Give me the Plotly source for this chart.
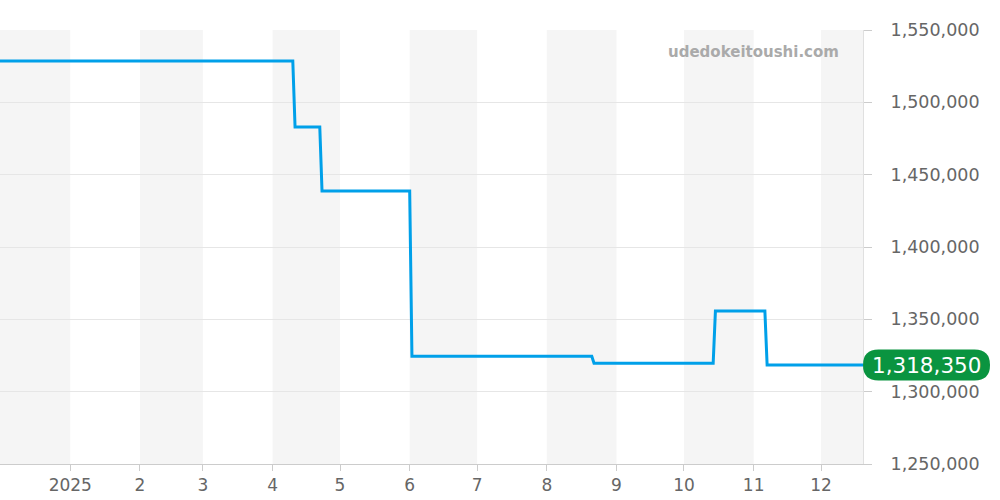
import plotly.graph_objs as go

# price history (step changes)
dates = ['2024-11-30', '2025-04-10', '2025-04-11', '2025-04-22', '2025-04-23',
         '2025-06-01', '2025-06-02', '2025-08-21', '2025-08-22', '2025-10-14',
         '2025-10-15', '2025-11-06', '2025-11-07', '2025-12-20']
prices = [1528600, 1528600, 1483000, 1483000, 1438700,
          1438700, 1324500, 1324500, 1319600, 1319600,
          1355800, 1355800, 1318350, 1318350]

month_starts = ['2024-11-30', '2025-01-01', '2025-02-01', '2025-03-01', '2025-04-01',
                '2025-05-01', '2025-06-01', '2025-07-01', '2025-08-01', '2025-09-01',
                '2025-10-01', '2025-11-01', '2025-12-01', '2026-01-01']
tick_vals = month_starts[1:13]
tick_text = ['2025', '2', '3', '4', '5', '6', '7', '8', '9', '10', '11', '12']
y_ticks = [1250000, 1300000, 1350000, 1400000, 1450000, 1500000, 1550000]

x_range = ['2024-11-30 18:00', '2025-12-19 15:36']
y_range = [1250000, 1550000]

fig = go.Figure()
fig.add_trace(go.Scatter(x=dates, y=prices, mode='lines',
                         line=dict(color='#00a0e9', width=3), hoverinfo='x+y'))

# alternating month bands
shapes = []
for i in range(0, len(month_starts) - 1, 2):
    shapes.append(dict(type='rect', xref='x', yref='paper', layer='below',
                       x0=month_starts[i], x1=month_starts[i + 1], y0=0, y1=1,
                       fillcolor='#f5f5f5', line=dict(width=0)))

# rounded label for the last price
plot_w = 863
plot_h = 434
last = prices[-1]
px_y = (y_range[1] - y_range[0]) / plot_h
x0p, x1p = 863, 990
h = 31
r = h / 2
yc = last
def X(p):
    return p / plot_w
def Y(dp):
    return yc + dp * px_y
path = (f"M {X(x0p + r)},{Y(r)} L {X(x1p - r)},{Y(r)} "
        f"Q {X(x1p)},{Y(r)} {X(x1p)},{Y(0)} Q {X(x1p)},{Y(-r)} {X(x1p - r)},{Y(-r)} "
        f"L {X(x0p + r)},{Y(-r)} Q {X(x0p)},{Y(-r)} {X(x0p)},{Y(0)} "
        f"Q {X(x0p)},{Y(r)} {X(x0p + r)},{Y(r)} Z")
shapes.append(dict(type='path', xref='paper', yref='y', path=path,
                   fillcolor='#0a9440', line=dict(width=0), layer='above'))

fig.update_layout(
    width=1000, height=500,
    margin=dict(l=0, r=137, t=30, b=36, autoexpand=False),
    paper_bgcolor='white', plot_bgcolor='white',
    showlegend=False,
    shapes=shapes,
    font=dict(family='DejaVu Sans', color='#666666', size=17),
    xaxis=dict(range=x_range, type='date', tickvals=tick_vals, ticktext=tick_text,
               showgrid=False, ticks='outside', ticklen=6, tickcolor='#cccccc',
               showline=True, linecolor='#cccccc', linewidth=1, zeroline=False,
               automargin=False, tickfont=dict(size=17, color='#666666')),
    yaxis=dict(range=y_range, side='right', tickvals=y_ticks, tickformat=',',
               showgrid=True, gridcolor='#e6e6e6', ticks='outside', ticklen=8,
               tickcolor='#cccccc', showline=True, linecolor='#e0e0e0',
               zeroline=False, automargin=False, ticklabelstandoff=15,
               tickfont=dict(size=17.5, color='#666666')),
    annotations=[
        dict(xref='paper', yref='y', x=(x0p + x1p) / 2 / plot_w, y=last,
             text=f'{last:,}', showarrow=False, xanchor='center', yanchor='middle',
             font=dict(size=21.5, color='white', family='DejaVu Sans')),
        dict(xref='paper', yref='paper', x=841 / plot_w, y=1 - 22 / plot_h,
             text='<b>udedokeitoushi.com</b>', showarrow=False,
             xanchor='right', yanchor='middle',
             font=dict(size=15, color='#aaaaaa', family='DejaVu Sans')),
    ],
)

fig.write_html('out.html', config={'displayModeBar': False},
               post_script="document.body.style.margin='0';")
